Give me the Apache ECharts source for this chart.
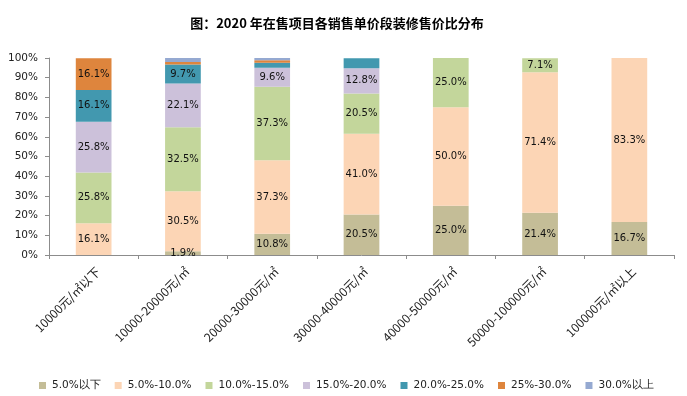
<!DOCTYPE html>
<html>
<head>
<meta charset="utf-8">
<script src="https://cdn.jsdelivr.net/npm/echarts@6/dist/echarts.min.js"></script>
<style>
  html, body { margin: 0; padding: 0; background: #fff; }
  #chart-container { width: 687px; height: 396px; }
</style>
</head>
<body>
<div id="chart-container"></div>
<script>
var categories = ["10000元/㎡以下", "10000-20000元/㎡", "20000-30000元/㎡", "30000-40000元/㎡",
  "40000-50000元/㎡", "50000-100000元/㎡", "100000元/㎡以上"];

var seriesNames = ["5.0%以下", "5.0%-10.0%", "10.0%-15.0%", "15.0%-20.0%", "20.0%-25.0%", "25%-30.0%", "30.0%以上"];
var colors = ["#C4BD97", "#FCD5B5", "#C3D69B", "#CCC1DA", "#4298AF", "#DE853D", "#95A9D1"];

var below5 = [0, 1.9, 10.8, 20.5, 25.0, 21.4, 16.7];
var from5to10 = [16.1, 30.5, 37.3, 41.0, 50.0, 71.4, 83.3];
var from10to15 = [25.8, 32.5, 37.3, 20.5, 25.0, 7.1, 0];
var from15to20 = [25.8, 22.1, 9.6, 12.8, 0, 0, 0];
var from20to25 = [16.1, 9.7, 2.6, 5.1, 0, 0, 0];
var from25to30 = [16.1, 1.3, 1.2, 0, 0, 0, 0];
var above30 = [0, 2.0, 1.2, 0, 0, 0, 0];

var values = [below5, from5to10, from10to15, from15to20, from20to25, from25to30, above30];

var dom = document.getElementById("chart-container");
var myChart = echarts.init(dom, null, { renderer: "canvas" });

var series = values.map(function (arr, i) {
  return {
    name: seriesNames[i],
    type: "bar",
    stack: "total",
    barWidth: "40%",
    data: arr,
    itemStyle: { color: colors[i] },
    label: {
      show: true,
      position: "inside",
      color: "#111",
      fontSize: 10,
      fontFamily: "DejaVu Sans",
      formatter: function (p) {
        // small slices are left unlabelled, except the first band
        if (p.value <= 0) return "";
        if (p.seriesIndex !== 0 && p.value < 7) return "";
        return p.value.toFixed(1) + "%";
      }
    }
  };
});

var option = {
  animation: false,
  title: {
    text: "图：2020 年在售项目各销售单价段装修售价比分布",
    left: 332,
    textAlign: "center",
    top: 12,
    textStyle: { fontSize: 13, fontWeight: "bold", color: "#000", fontFamily: "Noto Sans CJK SC" }
  },
  legend: {
    top: 375,
    left: 34,
    itemWidth: 7,
    itemHeight: 7,
    itemGap: 14,
    icon: "rect",
    textStyle: { fontSize: 10.5, color: "#222", fontFamily: "DejaVu Sans", padding: [0, 0, 0, 1] },
    data: seriesNames
  },
  grid: { left: 49, right: 13, top: 58, bottom: 141, containLabel: false },
  xAxis: {
    type: "category",
    data: categories,
    axisLine: { lineStyle: { color: "#8c8c8c" } },
    axisTick: { show: true, length: 4, lineStyle: { color: "#8c8c8c" } },
    axisLabel: {
      rotate: 45,
      fontSize: 12,
      color: "#222",
      margin: 10,
      verticalAlign: "top",
      interval: 0,
      fontFamily: "Noto Sans CJK SC"
    }
  },
  yAxis: {
    type: "value",
    min: 0,
    max: 100,
    interval: 10,
    splitLine: { show: false },
    axisLine: { show: true, lineStyle: { color: "#8c8c8c" } },
    axisTick: { show: true, length: 4, lineStyle: { color: "#8c8c8c" } },
    axisLabel: { formatter: "{value}%", fontSize: 10.5, color: "#222", margin: 11, fontFamily: "DejaVu Sans" }
  },
  series: series
};

myChart.setOption(option);
window.addEventListener("resize", myChart.resize);
</script>
</body>
</html>
